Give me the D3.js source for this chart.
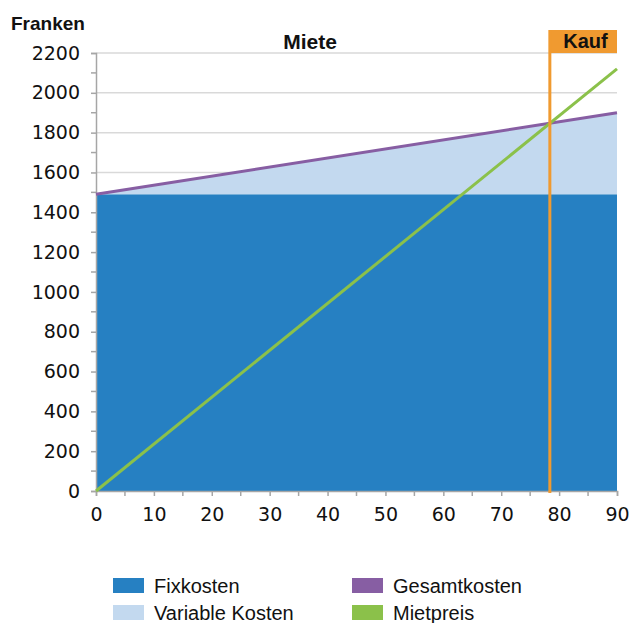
<!DOCTYPE html>
<html>
<head>
<meta charset="utf-8">
<script src="https://cdn.jsdelivr.net/npm/d3@7"></script>
<style>
  html, body { margin: 0; padding: 0; background: #fff; }
  svg { display: block; }
</style>
</head>
<body>
<svg id="chart" width="643" height="623"></svg>
<script>
// Monthly cost (Franken) versus years
const years = [0, 90];
const fixkosten = [1490, 1490];
const gesamtkosten = [1490, 1900];
const mietpreis = [0, 2120];
const kaufAb = 78.4;              // break-even year where buying pays off
const yTicks = [0, 200, 400, 600, 800, 1000, 1200, 1400, 1600, 1800, 2000, 2200];
const xTicks = [0, 10, 20, 30, 40, 50, 60, 70, 80, 90];
const legendItems = [
  { name: "Fixkosten", color: "#2680c2" },
  { name: "Variable Kosten", color: "#c3d9ef" },
  { name: "Gesamtkosten", color: "#875ea3" },
  { name: "Mietpreis", color: "#8bc14a" }
];

const svg = d3.select("#chart");
const m = { left: 96, right: 617, top: 53, bottom: 491 };

const x = d3.scaleLinear().domain([0, 90]).range([m.left, m.right]);
const y = d3.scaleLinear().domain([0, 2200]).range([m.bottom, m.top]);

const tickFont = "'DejaVu Sans', sans-serif";
const labelFont = "'Liberation Sans', Arial, sans-serif";

// horizontal gridlines
svg.append("g").selectAll("line").data(yTicks.filter(d => d > 0)).join("line")
  .attr("x1", m.left).attr("x2", m.right)
  .attr("y1", d => y(d)).attr("y2", d => y(d))
  .attr("stroke", "#d9d9d9").attr("stroke-width", 1.5);

const pts = years.map((yr, i) => ({ yr, fix: fixkosten[i], ges: gesamtkosten[i], miet: mietpreis[i] }));

// fixed costs area
svg.append("path").datum(pts)
  .attr("fill", legendItems[0].color)
  .attr("d", d3.area().x(d => x(d.yr)).y0(y(0)).y1(d => y(d.fix)));

// variable costs area between fixed and total
svg.append("path").datum(pts)
  .attr("fill", legendItems[1].color)
  .attr("d", d3.area().x(d => x(d.yr)).y0(d => y(d.fix)).y1(d => y(d.ges)));

// y axis
const yAxis = svg.append("g").attr("transform", `translate(${m.left},0)`)
  .call(d3.axisLeft(y).tickValues(yTicks).tickSize(5).tickPadding(11).tickFormat(d3.format("d")));
yAxis.select(".domain").attr("stroke", "#a6a6a6").attr("stroke-width", 1.5);
yAxis.selectAll(".tick line").attr("stroke", "#a6a6a6").attr("stroke-width", 1.5);
yAxis.selectAll("text").attr("font-family", tickFont).attr("font-size", 19).attr("fill", "#111");
// minor y ticks
svg.append("g").selectAll("line").data(d3.range(100, 2200, 200)).join("line")
  .attr("x1", m.left - 5).attr("x2", m.left)
  .attr("y1", d => y(d)).attr("y2", d => y(d))
  .attr("stroke", "#a6a6a6").attr("stroke-width", 1.5);

// x axis
const xAxis = svg.append("g").attr("transform", `translate(0,${m.bottom})`)
  .call(d3.axisBottom(x).tickValues(xTicks).tickSize(5).tickPadding(12));
xAxis.select(".domain").attr("stroke", "#a6a6a6").attr("stroke-width", 1.5);
xAxis.selectAll(".tick line").attr("stroke", "#a6a6a6").attr("stroke-width", 1.5);
xAxis.selectAll("text").attr("font-family", tickFont).attr("font-size", 19).attr("fill", "#111");
svg.append("g").selectAll("line").data(d3.range(5, 90, 10)).join("line")
  .attr("x1", d => x(d)).attr("x2", d => x(d))
  .attr("y1", m.bottom).attr("y2", m.bottom + 5)
  .attr("stroke", "#a6a6a6").attr("stroke-width", 1.5);

// total cost line
svg.append("path").datum(pts)
  .attr("fill", "none").attr("stroke", legendItems[2].color).attr("stroke-width", 3)
  .attr("d", d3.line().x(d => x(d.yr)).y(d => y(d.ges)));

// rent line
svg.append("path").datum(pts)
  .attr("fill", "none").attr("stroke", legendItems[3].color).attr("stroke-width", 3)
  .attr("d", d3.line().x(d => x(d.yr)).y(d => y(d.miet)));

// purchase marker
const orange = "#f09a30";
svg.append("rect")
  .attr("x", x(kaufAb)).attr("y", m.top - 23)
  .attr("width", m.right - x(kaufAb)).attr("height", 23)
  .attr("fill", orange);
svg.append("line")
  .attr("x1", x(kaufAb)).attr("x2", x(kaufAb))
  .attr("y1", m.top - 23).attr("y2", m.bottom + 2)
  .attr("stroke", orange).attr("stroke-width", 3);
svg.append("text")
  .attr("x", (x(kaufAb) + m.right) / 2 + 2).attr("y", m.top - 5)
  .attr("text-anchor", "middle")
  .attr("font-family", labelFont).attr("font-weight", "bold").attr("font-size", 20)
  .attr("fill", "#111").text("Kauf");

svg.append("text")
  .attr("x", 310).attr("y", 49)
  .attr("text-anchor", "middle")
  .attr("font-family", labelFont).attr("font-weight", "bold").attr("font-size", 21)
  .attr("fill", "#111").text("Miete");

svg.append("text")
  .attr("x", 11).attr("y", 30)
  .attr("font-family", labelFont).attr("font-weight", "bold").attr("font-size", 19)
  .attr("fill", "#111").text("Franken");

// legend
const legend = svg.append("g");
const lg = legend.selectAll("g").data(legendItems).join("g")
  .attr("transform", (d, i) => `translate(${i < 2 ? 113 : 352},${i % 2 === 0 ? 578 : 605})`);
lg.append("rect").attr("width", 31).attr("height", 15).attr("fill", d => d.color);
lg.append("text")
  .attr("x", 41).attr("y", 15)
  .attr("font-family", labelFont).attr("font-size", 20)
  .attr("fill", "#111").text(d => d.name);
</script>
</body>
</html>
